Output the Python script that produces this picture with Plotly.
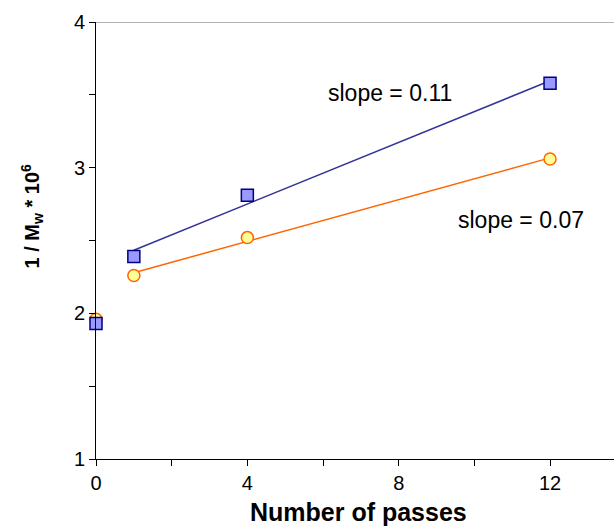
import numpy as np
import plotly.graph_objects as go

passes = [0, 1, 4, 12]
mw_blue = [1.93, 2.39, 2.81, 3.58]
mw_orange = [1.96, 2.26, 2.52, 3.06]
slope_labels = ["slope = 0.11", "slope = 0.07"]
x_ticks = [0, 4, 8, 12]
y_ticks = [1, 2, 3, 4]

BLUE_LINE = "#333399"
ORANGE_LINE = "#FF6600"

fig = go.Figure()

# Linear fits (through the points from pass 1 onwards)
fit_x = np.array(passes[1:], dtype=float)
for ys, col in [(mw_blue, BLUE_LINE), (mw_orange, ORANGE_LINE)]:
    k, b = np.polyfit(fit_x, np.array(ys[1:]), 1)
    xs = [fit_x.min(), fit_x.max()]
    fig.add_trace(go.Scatter(x=xs, y=[k * v + b for v in xs], mode="lines",
                             line=dict(color=col, width=1.5), showlegend=False,
                             hoverinfo="skip"))

fig.add_trace(go.Scatter(x=passes, y=mw_orange, mode="markers", showlegend=False,
                         cliponaxis=False,
                         marker=dict(symbol="circle", size=12, color="#FFFF99",
                                     line=dict(color=ORANGE_LINE, width=1.5))))
fig.add_trace(go.Scatter(x=passes, y=mw_blue, mode="markers", showlegend=False,
                         cliponaxis=False,
                         marker=dict(symbol="square", size=12, color="#9999FF",
                                     line=dict(color="#000080", width=1.5))))

FONT = "Liberation Sans, Arial, sans-serif"

fig.update_layout(
    width=614, height=527,
    margin=dict(l=96, r=0, t=22, b=68),
    paper_bgcolor="white", plot_bgcolor="white",
    font=dict(family=FONT, color="black"),
    xaxis=dict(range=[0, 13.69], tickvals=x_ticks, ticks="outside", ticklen=6,
               tickcolor="black", showline=True, linecolor="black", linewidth=1,
               showgrid=False, zeroline=False, tickfont=dict(size=20),
               minor=dict(ticks="outside", ticklen=6, dtick=2, tick0=0,
                          tickcolor="black", showgrid=False)),
    yaxis=dict(range=[1, 4], tickvals=y_ticks, ticks="outside", ticklen=6,
               tickcolor="black", showline=True, linecolor="black", linewidth=1,
               showgrid=False, zeroline=False, tickfont=dict(size=20),
               minor=dict(ticks="outside", ticklen=6, dtick=0.5, tick0=1,
                          tickcolor="black", showgrid=False)),
)

# top border line of plot area
fig.add_shape(type="line", xref="paper", yref="y", x0=0, x1=1, y0=4, y1=4,
              line=dict(color="#999999", width=1.5))

fig.add_annotation(text=slope_labels[0], x=7.77, y=3.515, xref="x", yref="y",
                   showarrow=False, font=dict(size=23))
fig.add_annotation(text=slope_labels[1], x=11.23, y=2.643, xref="x", yref="y",
                   showarrow=False, font=dict(size=23))

fig.add_annotation(text="<b>Number of passes</b>", xref="paper", yref="paper",
                   x=0.5063, y=0, yanchor="middle", yshift=-53, showarrow=False,
                   font=dict(size=25))
fig.add_annotation(text="<b>1 / M<sub>w</sub> * 10<sup>6</sup></b>", xref="paper",
                   yref="paper", x=0, y=0.555, xanchor="center", yanchor="middle",
                   xshift=-64, textangle=-90, showarrow=False, font=dict(size=20))

fig.write_html("out.html")
